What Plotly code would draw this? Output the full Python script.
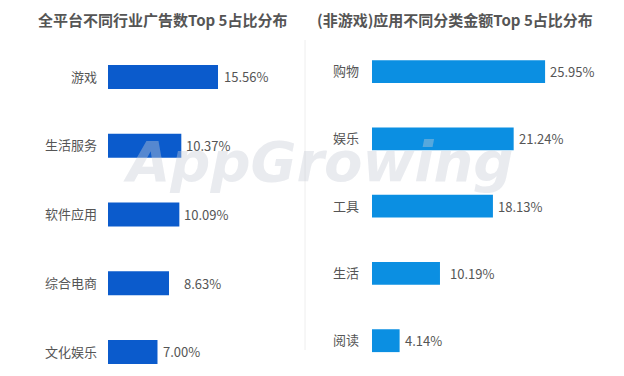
import plotly.graph_objects as go

# ---- data ----
left_title = "全平台不同行业广告数Top 5占比分布"
left_cats = ["游戏", "生活服务", "软件应用", "综合电商", "文化娱乐"]
left_vals = [15.56, 10.37, 10.09, 8.63, 7.00]

right_title = "(非游戏)应用不同分类金额Top 5占比分布"
right_cats = ["购物", "娱乐", "工具", "生活", "阅读"]
right_vals = [25.95, 21.24, 18.13, 10.19, 4.14]

# ---- style ----
FONT = "Noto Sans CJK SC, Noto Sans, sans-serif"
TXT = "#555555"
LEFT_COLOR = "#0b5bcc"
RIGHT_COLOR = "#0b8fe2"
left_gap = [4, 3, 3, 13, 4]
right_gap = [3, 3, 3, 8, 3]
W, H = 624, 376
OFF = 8  # page body margin


def px(x):
    return (x - OFF) / W


def py(y):
    return 1 - (y - OFF) / H


fig = go.Figure()
fig.add_trace(go.Bar(x=left_vals, y=left_cats, orientation="h", width=0.35,
                     marker=dict(color=LEFT_COLOR, line=dict(width=0)),
                     xaxis="x", yaxis="y", hoverinfo="x+y"))
fig.add_trace(go.Bar(x=right_vals, y=right_cats, orientation="h", width=0.34,
                     marker=dict(color=RIGHT_COLOR, line=dict(width=0)),
                     xaxis="x2", yaxis="y2", hoverinfo="x+y"))

ann = []
for c, v, g in zip(left_cats, left_vals, left_gap):
    ann.append(dict(x=v, y=c, xref="x", yref="y", text=f"{v:.2f}%", showarrow=False,
                    xanchor="left", xshift=g, font=dict(size=13, color=TXT, family=FONT)))
for c, v, g in zip(right_cats, right_vals, right_gap):
    ann.append(dict(x=v, y=c, xref="x2", yref="y2", text=f"{v:.2f}%", showarrow=False,
                    xanchor="left", xshift=g, font=dict(size=13, color=TXT, family=FONT)))
# titles
ann.append(dict(x=px(162), y=1, xref="paper", yref="paper", text=f"<b>{left_title}</b>",
                showarrow=False, xanchor="center", yanchor="top", borderpad=0,
                font=dict(size=15, color=TXT, family=FONT)))
ann.append(dict(x=px(455), y=1, xref="paper", yref="paper", text=f"<b>{right_title}</b>",
                showarrow=False, xanchor="center", yanchor="top", borderpad=0,
                font=dict(size=15, color=TXT, family=FONT)))
# watermark
ann.append(dict(x=px(318), y=py(162), xref="paper", yref="paper", text="<b><i>AppGrowing</i></b>",
                showarrow=False, xanchor="center", yanchor="middle",
                font=dict(size=56, color="rgba(200,205,215,0.4)", family="DejaVu Sans")))

fig.update_layout(
    width=W, height=H,
    margin=dict(l=0, r=0, t=0, b=0, autoexpand=False),
    paper_bgcolor="white", plot_bgcolor="rgba(0,0,0,0)",
    showlegend=False,
    font=dict(family=FONT, color=TXT, size=13),
    annotations=ann,
    shapes=[dict(type="line", xref="paper", yref="paper", x0=px(305), x1=px(305),
                 y0=py(40), y1=py(350), line=dict(color="#eeeeee", width=1))],
    xaxis=dict(domain=[px(108), px(299.5)], range=[0, 191.5/7.07], visible=False, fixedrange=True,
               automargin=False),
    yaxis=dict(domain=[py(370), py(40)], range=[4.262, -0.538], type="category", automargin=False,
               showgrid=False, zeroline=False, showline=False, ticks="",
               ticklabelstandoff=10, tickfont=dict(size=13, color=TXT, family=FONT)),
    xaxis2=dict(domain=[px(372), px(611.5)], range=[0, 239.5/6.67], visible=False, fixedrange=True,
                anchor="y2", automargin=False),
    yaxis2=dict(domain=[py(370), py(40)], range=[4.436, -0.471], type="category", anchor="x2",
                automargin=False,
                showgrid=False, zeroline=False, showline=False, ticks="",
                ticklabelstandoff=12, tickfont=dict(size=13, color=TXT, family=FONT)),
)

fig.write_html("out.html")
